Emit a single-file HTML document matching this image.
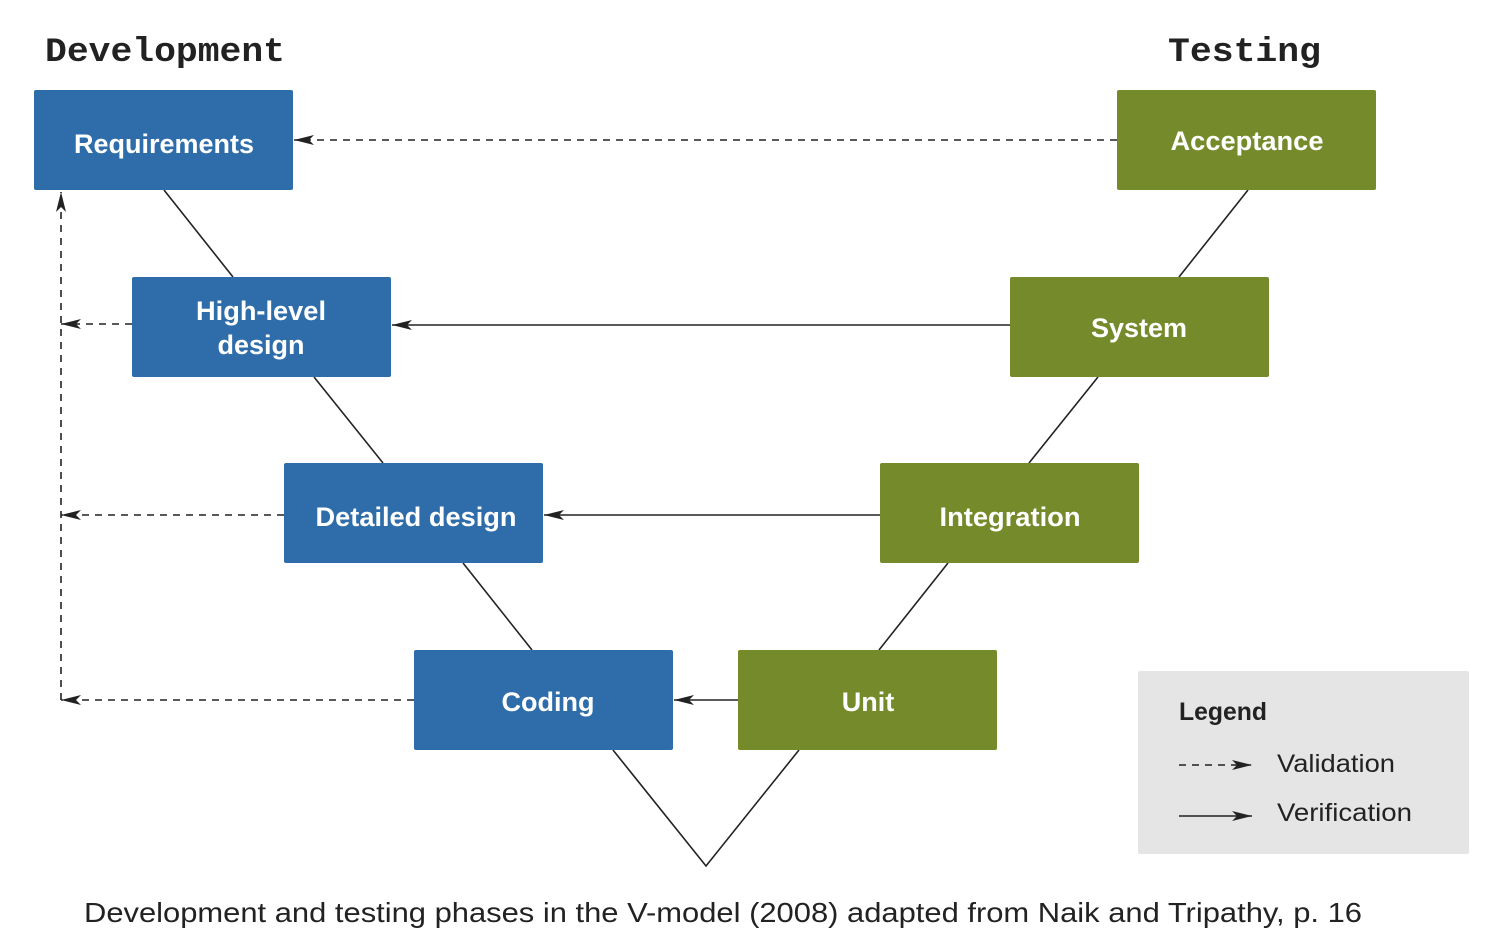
<!DOCTYPE html>
<html><head><meta charset="utf-8"><style>
html,body{margin:0;padding:0;background:#fff;}
svg{display:block;}
</style></head><body>
<svg width="1490" height="950" viewBox="0 0 1490 950" xmlns="http://www.w3.org/2000/svg">
<defs>
<marker id="ahr" markerWidth="20" markerHeight="10" refX="20" refY="5" orient="auto" markerUnits="userSpaceOnUse">
<path d="M20,5 L0,0 L5,5 L0,10 Z" fill="#222"/>
</marker>
</defs>
<g font-family="'Liberation Mono', monospace" font-weight="bold" font-size="34" fill="#222">
<text x="45" y="61" textLength="240" lengthAdjust="spacingAndGlyphs">Development</text>
<text x="1168" y="61" textLength="153" lengthAdjust="spacingAndGlyphs">Testing</text>
</g>
<g stroke="#222" stroke-width="1.6" fill="none">
<line x1="164" y1="190" x2="233" y2="277"/>
<line x1="314" y1="377" x2="383" y2="463"/>
<line x1="463" y1="563" x2="532" y2="650"/>
<polyline points="613,750 706,866 799,750"/>
<line x1="879" y1="650" x2="948" y2="563"/>
<line x1="1029" y1="463" x2="1098" y2="377"/>
<line x1="1179" y1="277" x2="1248" y2="190"/>
<line x1="1010" y1="325" x2="392" y2="325" marker-end="url(#ahr)"/>
<line x1="880" y1="515" x2="544" y2="515" marker-end="url(#ahr)"/>
<line x1="738" y1="700" x2="674" y2="700" marker-end="url(#ahr)"/>
</g>
<g stroke="#222" stroke-width="1.6" fill="none" stroke-dasharray="7,6">
<line x1="1117" y1="140" x2="294" y2="140" marker-end="url(#ahr)"/>
<line x1="61" y1="700" x2="61" y2="192" marker-end="url(#ahr)"/>
<line x1="132" y1="324" x2="61" y2="324" marker-end="url(#ahr)"/>
<line x1="284" y1="515" x2="61" y2="515" marker-end="url(#ahr)"/>
<line x1="414" y1="700" x2="61" y2="700" marker-end="url(#ahr)"/>
</g>
<g fill="#2E6DAA">
<rect x="34" y="90" width="259" height="100" rx="2"/>
<rect x="132" y="277" width="259" height="100" rx="2"/>
<rect x="284" y="463" width="259" height="100" rx="2"/>
<rect x="414" y="650" width="259" height="100" rx="2"/>
</g>
<g fill="#758A2A">
<rect x="1117" y="90" width="259" height="100" rx="2"/>
<rect x="1010" y="277" width="259" height="100" rx="2"/>
<rect x="880" y="463" width="259" height="100" rx="2"/>
<rect x="738" y="650" width="259" height="100" rx="2"/>
</g>
<g font-family="'Liberation Sans', sans-serif" font-size="27" font-weight="bold" fill="#fff" text-anchor="middle">
<text x="164" y="153" textLength="180" lengthAdjust="spacingAndGlyphs">Requirements</text>
<text x="261" y="320" textLength="130" lengthAdjust="spacingAndGlyphs">High-level</text>
<text x="261" y="354">design</text>
<text x="416" y="526" textLength="201" lengthAdjust="spacingAndGlyphs">Detailed design</text>
<text x="548" y="711">Coding</text>
<text x="1247" y="150" textLength="153" lengthAdjust="spacingAndGlyphs">Acceptance</text>
<text x="1139" y="337">System</text>
<text x="1010" y="526" textLength="141" lengthAdjust="spacingAndGlyphs">Integration</text>
<text x="868" y="711">Unit</text>
</g>
<rect x="1138" y="671" width="331" height="183" fill="#E5E5E5" rx="2"/>
<g font-family="'Liberation Sans', sans-serif" font-size="25" fill="#222">
<text x="1179" y="720" font-weight="bold" textLength="88" lengthAdjust="spacingAndGlyphs">Legend</text>
<text x="1277" y="772" textLength="118" lengthAdjust="spacingAndGlyphs">Validation</text>
<text x="1277" y="821" textLength="135" lengthAdjust="spacingAndGlyphs">Verification</text>
</g>
<line x1="1179" y1="765" x2="1252" y2="765" stroke="#222" stroke-width="1.6" stroke-dasharray="7,6" marker-end="url(#ahr)"/>
<line x1="1179" y1="816" x2="1252" y2="816" stroke="#222" stroke-width="1.6" marker-end="url(#ahr)"/>
<text x="84" y="922" font-family="'Liberation Sans', sans-serif" font-size="28" fill="#222" textLength="1278" lengthAdjust="spacingAndGlyphs">Development and testing phases in the V-model (2008) adapted from Naik and Tripathy, p. 16</text>
</svg>
</body></html>
